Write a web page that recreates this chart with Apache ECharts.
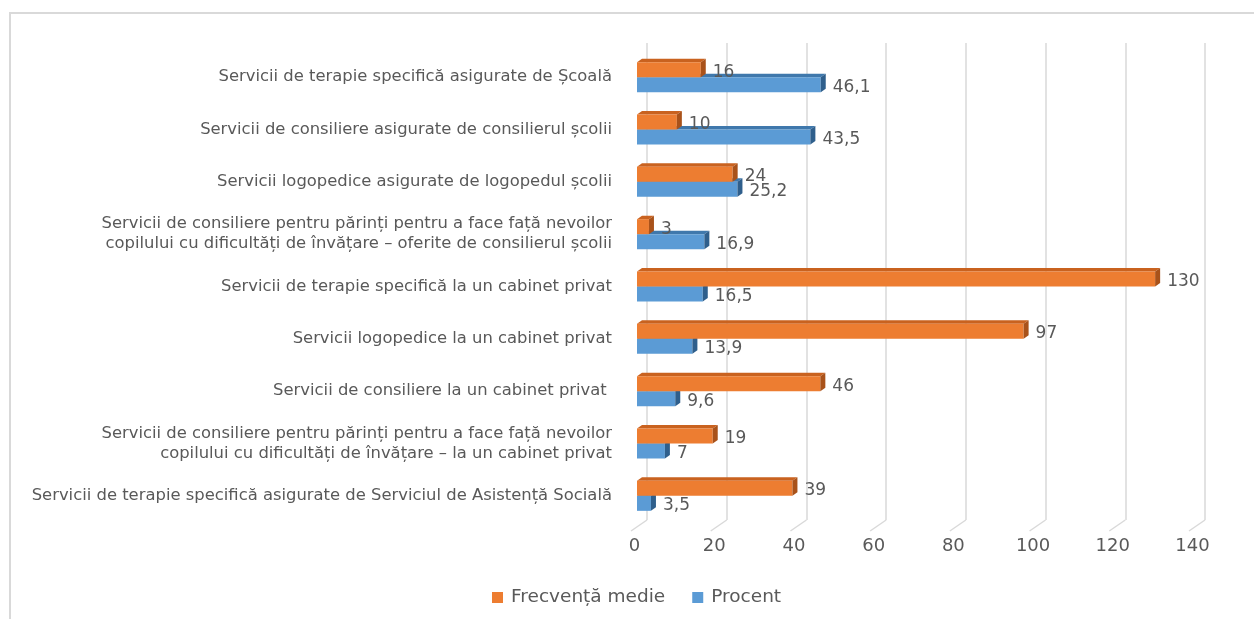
<!DOCTYPE html>
<html>
<head>
<meta charset="utf-8">
<script src="https://cdn.jsdelivr.net/npm/echarts@6/dist/echarts.min.js"></script>
<style>
  html, body { margin: 0; padding: 0; background: #fff; }
  #frame { position: absolute; left: 9px; top: 12px; width: 1260px; height: 620px;
           border-left: 2px solid #D9D9D9; border-top: 2px solid #D9D9D9; box-sizing: border-box; }
  #chart { position: absolute; left: 0; top: 0; width: 1254px; height: 619px; }
</style>
</head>
<body>
<div id="frame"></div>
<div id="chart"></div>
<script>
const categories = [
  "Servicii de terapie specifică asigurate de Școală",
  "Servicii de consiliere asigurate de consilierul școlii",
  "Servicii logopedice asigurate de logopedul școlii",
  "Servicii de consiliere pentru părinți pentru a face față nevoilor\ncopilului cu dificultăți de învățare – oferite de consilierul școlii",
  "Servicii de terapie specifică la un cabinet privat",
  "Servicii logopedice la un cabinet privat",
  "Servicii de consiliere la un cabinet privat ",
  "Servicii de consiliere pentru părinți pentru a face față nevoilor\ncopilului cu dificultăți de învățare – la un cabinet privat",
  "Servicii de terapie specifică asigurate de Serviciul de Asistență Socială"
];
const frecventaMedie = [16, 10, 24, 3, 130, 97, 46, 19, 39];
const procent = [46.1, 43.5, 25.2, 16.9, 16.5, 13.9, 9.6, 7, 3.5];
const xTicks = [0, 20, 40, 60, 80, 100, 120, 140];

const FONT = 'DejaVu Sans';
const TEXT = '#595959';

function bar3d(top, front, topFace, side) {
  return function (params, api) {
    const v = api.value(0), c = api.value(1);
    const p0 = api.coord([0, c]);
    const p1 = api.coord([v, c]);
    const cy = p0[1];
    const h = 15, dx = 5, dy = -3.5;
    const y0 = top ? cy - h : cy;
    const x0 = p0[0], x1 = p1[0];
    const label = String(v).replace('.', ',');
    return {
      type: 'group',
      children: [
        { type: 'polygon', shape: { points: [[x0, y0], [x1, y0], [x1 + dx, y0 + dy], [x0 + dx, y0 + dy]] },
          style: { fill: topFace } },
        { type: 'rect', shape: { x: x0, y: y0, width: x1 - x0, height: h }, style: { fill: front } },
        { type: 'polygon', shape: { points: [[x1, y0], [x1 + dx, y0 + dy], [x1 + dx, y0 + h + dy], [x1, y0 + h]] },
          style: { fill: side } },
        { type: 'text', style: { text: label, x: x1 + dx + 7, y: y0 + h / 2 + 2.5, fill: TEXT,
            fontSize: 17, fontFamily: FONT, verticalAlign: 'middle', align: 'left' } }
      ]
    };
  };
}

const chart = echarts.init(document.getElementById('chart'), null, { renderer: 'canvas' });
chart.setOption({
  animation: false,
  backgroundColor: 'transparent',
  textStyle: { fontFamily: FONT },
  legend: {
    data: ['Frecvență medie', 'Procent'],
    left: 487, top: 583,
    itemWidth: 11, itemHeight: 11, itemGap: 27,
    icon: 'rect',
    textStyle: { fontSize: 18.5, color: TEXT, fontFamily: FONT, padding: [0, 0, 0, 3] }
  },
  grid: [
    { left: 647, right: 49, top: 43, bottom: 99 },
    { left: 637, right: 59, top: 51, bottom: 97 }
  ],
  xAxis: [
    { gridIndex: 0, type: 'value', min: 0, max: 140, interval: 20,
      axisLabel: { show: false }, axisLine: { show: false }, axisTick: { show: false },
      splitLine: { show: true, lineStyle: { color: '#D9D9D9', width: 1.5 } } },
    { gridIndex: 1, type: 'value', min: 0, max: 140, interval: 20,
      axisLine: { show: false }, axisTick: { show: false }, splitLine: { show: false },
      axisLabel: { fontSize: 18, color: TEXT, fontFamily: FONT, margin: 15, padding: [0, 5, 0, 0] } }
  ],
  yAxis: [
    { gridIndex: 0, type: 'value', min: 0, max: 1, show: false },
    { gridIndex: 1, type: 'category', inverse: true, data: categories,
      axisLine: { show: false }, axisTick: { show: false }, splitLine: { show: false },
      axisLabel: { fontSize: 16.4, color: TEXT, fontFamily: FONT, margin: 25, lineHeight: 20, align: 'right' } }
  ],
  series: [
    {
      name: 'floor', type: 'custom', xAxisIndex: 0, yAxisIndex: 0, silent: true, z: 1,
      data: xTicks.map(t => [t, 0]),
      renderItem: function (params, api) {
        const p = api.coord([api.value(0), 0]);
        return { type: 'line', shape: { x1: p[0], y1: p[1], x2: p[0] - 16, y2: p[1] + 11 },
                 style: { stroke: '#D9D9D9', lineWidth: 1.5 } };
      }
    },
    {
      name: 'Frecvență medie', type: 'custom', xAxisIndex: 1, yAxisIndex: 1, z: 4,
      itemStyle: { color: '#ED7D31' },
      data: frecventaMedie.map((v, i) => [v, i]),
      encode: { x: 0, y: 1 },
      renderItem: bar3d(true, '#ED7D31', '#C9621F', '#A9521A')
    },
    {
      name: 'Procent', type: 'custom', xAxisIndex: 1, yAxisIndex: 1, z: 3,
      itemStyle: { color: '#5B9BD5' },
      data: procent.map((v, i) => [v, i]),
      encode: { x: 0, y: 1 },
      renderItem: bar3d(false, '#5B9BD5', '#3F78AC', '#2F5F8C')
    }
  ]
});
</script>
</body>
</html>
